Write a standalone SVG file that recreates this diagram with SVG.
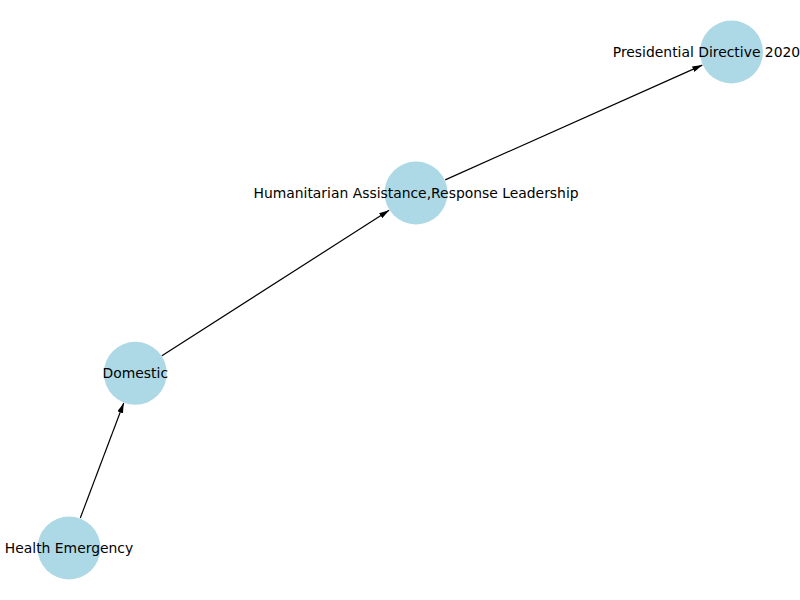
<svg xmlns="http://www.w3.org/2000/svg" width="800" height="600" viewBox="0 0 800 600">
<defs>
<marker id="arr" viewBox="0 0 10 6" refX="10" refY="3" markerWidth="10" markerHeight="6" markerUnits="userSpaceOnUse" orient="auto">
<path d="M0,0 L10,3 L0,6 Z" fill="#000"/>
</marker>
</defs>
<style>
.node circle{fill:#add8e6;}
.node text{font-family:"DejaVu Sans",sans-serif;font-size:13.9px;fill:#000;text-anchor:middle;dominant-baseline:central;}
.edges line{stroke:#000;stroke-width:1.2;marker-end:url(#arr);}
</style>
<rect width="800" height="600" fill="#fff"/>
<g id="edges" class="edges">
<line x1="80.3" y1="518" x2="123.7" y2="403"/>
<line x1="161.9" y1="355.7" x2="389.1" y2="210.3"/>
<line x1="445.2" y1="179.9" x2="702.3" y2="65.1"/>
</g>
<g id="node-presidential" class="node"><circle cx="731.5" cy="52" r="31.5"/><text x="706.5" y="52">Presidential Directive 2020</text></g>
<g id="node-humanitarian" class="node"><circle cx="416" cy="193" r="31.5"/><text x="416" y="193">Humanitarian Assistance,Response Leadership</text></g>
<g id="node-domestic" class="node"><circle cx="135.3" cy="373.3" r="31.5"/><text x="135.3" y="373.3">Domestic</text></g>
<g id="node-health" class="node"><circle cx="69" cy="548" r="31.5"/><text x="69" y="548">Health Emergency</text></g>
</svg>
